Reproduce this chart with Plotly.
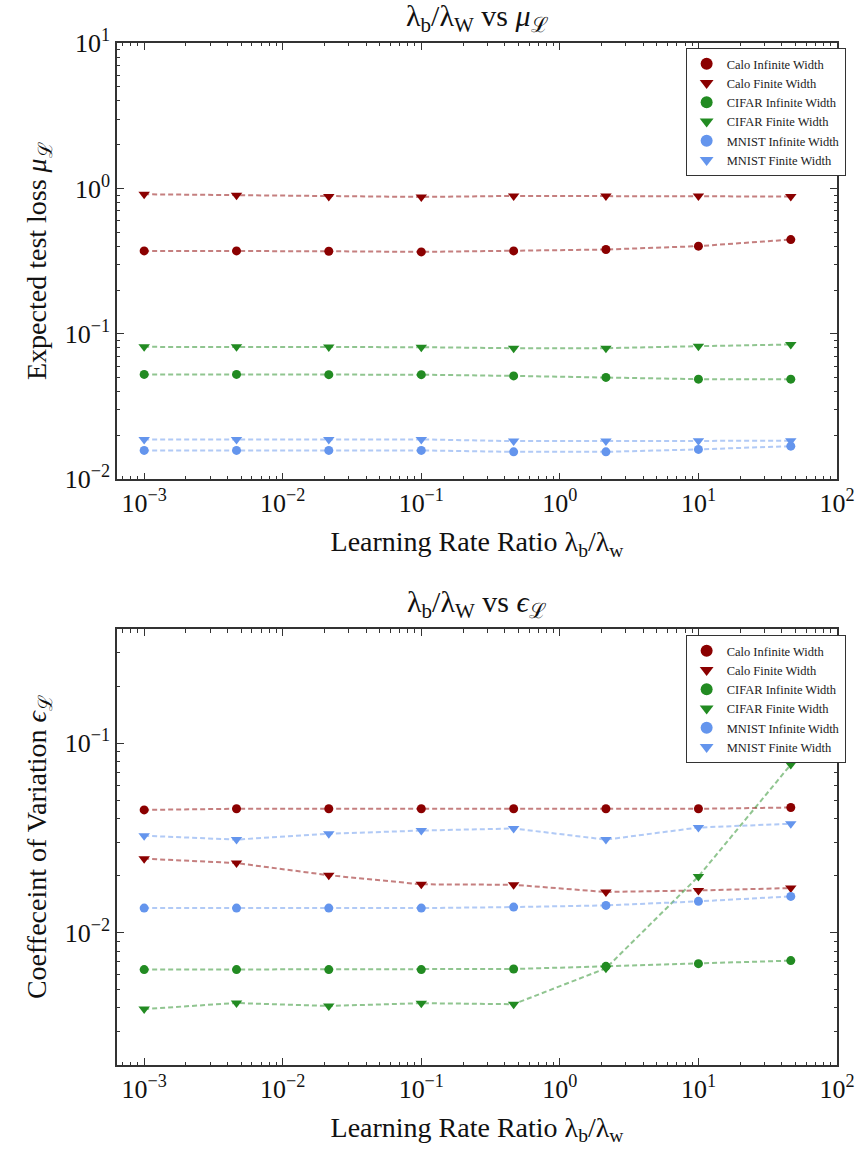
import plotly.graph_objects as go

# ---------------- data ----------------
ratio = [0.001, 0.00464, 0.0215, 0.1, 0.464, 2.15, 10.0, 46.4]

calo_inf_mu = [0.372, 0.372, 0.370, 0.366, 0.372, 0.380, 0.401, 0.445]
calo_fin_mu = [0.912, 0.898, 0.880, 0.874, 0.888, 0.888, 0.888, 0.880]
cifar_inf_mu = [0.0526, 0.0526, 0.0524, 0.0524, 0.0514, 0.0502, 0.0488, 0.0488]
cifar_fin_mu = [0.0814, 0.0814, 0.0812, 0.0810, 0.0797, 0.0797, 0.0823, 0.0845]
mnist_inf_mu = [0.0158, 0.0158, 0.0158, 0.0158, 0.01545, 0.01545, 0.01605, 0.0169]
mnist_fin_mu = [0.0188, 0.0188, 0.0188, 0.0188, 0.0183, 0.0183, 0.0184, 0.0184]

calo_inf_cv = [0.0445, 0.0451, 0.0451, 0.0451, 0.0451, 0.0451, 0.0451, 0.0458]
calo_fin_cv = [0.0246, 0.0233, 0.0201, 0.0180, 0.0179, 0.0164, 0.0167, 0.0172]
cifar_inf_cv = [0.00638, 0.00638, 0.00638, 0.00638, 0.00643, 0.00664, 0.00686, 0.00712]
cifar_fin_cv = [0.00395, 0.00425, 0.0041, 0.00424, 0.00419, 0.00648, 0.0198, 0.0772]
mnist_inf_cv = [0.01348, 0.01348, 0.01348, 0.01348, 0.01365, 0.01393, 0.01463, 0.01554]
mnist_fin_cv = [0.0325, 0.0310, 0.0333, 0.0346, 0.0355, 0.0310, 0.0359, 0.0376]

labels = ["Calo Infinite Width", "Calo Finite Width", "CIFAR Infinite Width",
          "CIFAR Finite Width", "MNIST Infinite Width", "MNIST Finite Width"]
colors = ["#8B0000", "#8B0000", "#228B22", "#228B22", "#6495ED", "#6495ED"]
line_colors = ["rgba(139,0,0,0.5)", "rgba(139,0,0,0.5)", "rgba(34,139,34,0.5)",
               "rgba(34,139,34,0.5)", "rgba(100,149,237,0.5)", "rgba(100,149,237,0.5)"]
symbols = ["circle", "triangle-down"] * 3
sizes = [9, 10] * 3

top_series = [calo_inf_mu, calo_fin_mu, cifar_inf_mu, cifar_fin_mu, mnist_inf_mu, mnist_fin_mu]
bot_series = [calo_inf_cv, calo_fin_cv, cifar_inf_cv, cifar_fin_cv, mnist_inf_cv, mnist_fin_cv]

FONT = "Liberation Serif"

fig = go.Figure()
for series, xa, ya, leg in [(top_series, "x", "y", "legend"), (bot_series, "x2", "y2", "legend2")]:
    for i, vals in enumerate(series):
        fig.add_trace(go.Scatter(x=ratio, y=vals, mode="lines", xaxis=xa, yaxis=ya,
                                 line=dict(color=line_colors[i], width=2, dash="5px,3px"),
                                 showlegend=False, hoverinfo="skip"))
    for i, vals in enumerate(series):
        fig.add_trace(go.Scatter(x=ratio, y=vals, mode="markers", xaxis=xa, yaxis=ya,
                                 name=labels[i], legend=leg,
                                 marker=dict(color=colors[i], symbol=symbols[i], size=sizes[i],
                                             line=dict(width=0))))

minor_vals = [k * 10 ** e for e in range(-5, 3) for k in range(2, 10)]
xt_vals = [1e-3, 1e-2, 1e-1, 1, 10, 100]
xt_text = ["10<sup>−3</sup>", "10<sup>−2</sup>", "10<sup>−1</sup>", "10<sup>0</sup>",
           "10<sup>1</sup>", "10<sup>2</sup>"]

axis_common = dict(type="log", showgrid=False, zeroline=False, showline=True,
                   linecolor="#333333", linewidth=1.5, mirror="ticks", ticks="inside",
                   ticklen=7, tickwidth=1.2, tickcolor="#333333",
                   tickfont=dict(family=FONT, size=26, color="#111111"),
                   minor=dict(ticks="inside", ticklen=3.5, tickwidth=1, tickcolor="#333333",
                              tickmode="array", tickvals=minor_vals))

xdom = [0, 1]
top_dom = [0.5731, 1.0]
bot_dom = [0.0, 0.4263]

xtitle = dict(text="Learning Rate Ratio λ<sub>b</sub>/λ<sub>w</sub>",
              font=dict(family=FONT, size=28, color="#111111"), standoff=14)

fig.update_layout(
    width=867, height=1158,
    margin=dict(l=117, r=19, t=43, b=93),
    paper_bgcolor="white", plot_bgcolor="white",
    font=dict(family=FONT, color="#111111"),
    xaxis=dict(axis_common, domain=xdom, anchor="y", range=[-3.196, 2],
               tickvals=xt_vals, ticktext=xt_text, title=xtitle),
    yaxis=dict(axis_common, domain=top_dom, anchor="x", range=[-2, 1],
               tickvals=[1e-2, 1e-1, 1, 10],
               ticktext=["10<sup>−2</sup>", "10<sup>−1</sup>", "10<sup>0</sup>", "10<sup>1</sup>"],
               title=dict(text="Expected test loss <i>μ</i><sub>ℒ</sub>",
                          font=dict(family=FONT, size=28, color="#111111"), standoff=10)),
    xaxis2=dict(axis_common, domain=xdom, anchor="y2", range=[-3.196, 2],
                tickvals=xt_vals, ticktext=xt_text, title=xtitle),
    yaxis2=dict(axis_common, domain=bot_dom, anchor="x2",
                range=[-2.699, -0.398],
                tickvals=[1e-2, 1e-1],
                ticktext=["10<sup>−2</sup>", "10<sup>−1</sup>"],
                title=dict(text="Coeffeceint of Variation <i>ϵ</i><sub>ℒ</sub>",
                           font=dict(family=FONT, size=28, color="#111111"), standoff=10)),
    legend=dict(x=1.012, y=0.995, xanchor="right", yanchor="top",
                bgcolor="white", bordercolor="#333333", borderwidth=1,
                font=dict(family=FONT, size=12.5, color="#222222"), tracegroupgap=0,
                itemsizing="constant"),
    legend2=dict(x=1.012, y=0.4207, xanchor="right", yanchor="top",
                 bgcolor="white", bordercolor="#333333", borderwidth=1,
                 font=dict(family=FONT, size=12.5, color="#222222"), tracegroupgap=0,
                 itemsizing="constant"),
    annotations=[
        dict(text="λ<sub>b</sub>/λ<sub>W</sub> vs <i>μ</i><sub>ℒ</sub>", xref="paper", yref="paper",
             x=0.5, y=1.0, yshift=4, xanchor="center", yanchor="bottom", showarrow=False,
             font=dict(family=FONT, size=30, color="#111111")),
        dict(text="λ<sub>b</sub>/λ<sub>W</sub> vs <i>ϵ</i><sub>ℒ</sub>", xref="paper", yref="paper",
             x=0.5, y=0.4263, yshift=4, xanchor="center", yanchor="bottom", showarrow=False,
             font=dict(family=FONT, size=30, color="#111111")),
    ],
)

fig.write_html("out.html")
